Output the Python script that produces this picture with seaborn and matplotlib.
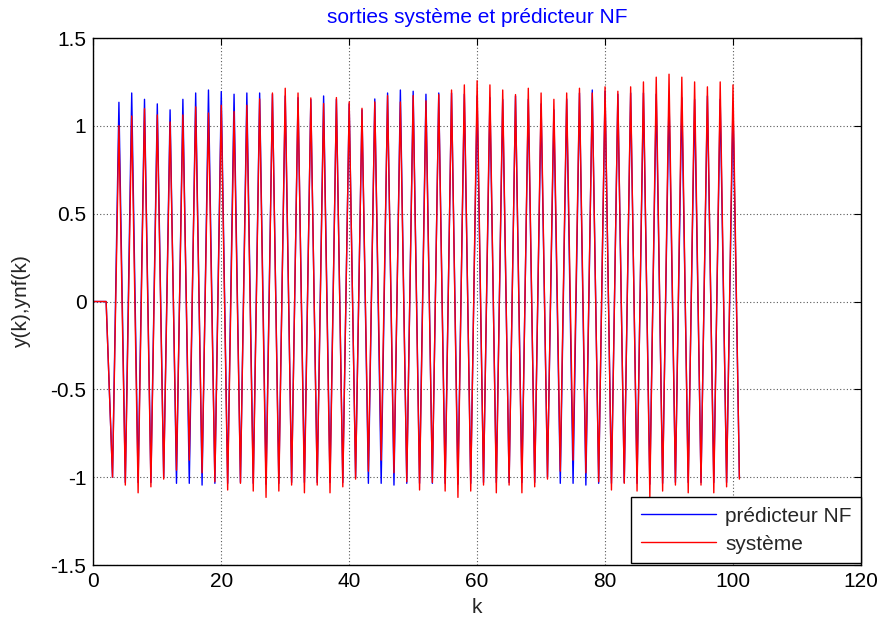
import matplotlib
matplotlib.use("Agg")
import matplotlib.pyplot as plt
import seaborn as sns
import pandas as pd

# sample index
k = list(range(0, 102))

# system output y(k)
y_sys = [
    0.0, 0.0, 0.0, -1.000, 1.001, -1.045, 1.056, -1.089, 1.098, -1.055,
    1.062, -1.011, 1.022, -0.960, 1.062, -0.903, 1.108, -0.975, 1.073, -1.026,
    1.117, -1.073, 1.081, -1.035, 1.117, -1.079, 1.153, -1.115, 1.187, -1.079,
    1.214, -1.045, 1.187, -1.089, 1.159, -1.045, 1.127, -1.089, 1.161, -1.055,
    1.136, -1.011, 1.100, -0.966, 1.136, -0.903, 1.172, -0.975, 1.136, -1.026,
    1.172, -1.073, 1.142, -1.030, 1.178, -1.079, 1.204, -1.115, 1.233, -1.079,
    1.257, -1.045, 1.233, -1.089, 1.204, -1.045, 1.178, -1.089, 1.214, -1.055,
    1.187, -1.011, 1.151, -0.966, 1.187, -0.903, 1.214, -0.975, 1.187, -1.026,
    1.222, -1.073, 1.197, -1.035, 1.222, -1.079, 1.250, -1.115, 1.277, -1.079,
    1.294, -1.045, 1.277, -1.089, 1.250, -1.045, 1.222, -1.089, 1.250, -1.055,
    1.233, -1.011,
]

# neuro-fuzzy predictor output ynf(k)
y_nf = [
    0.0, 0.0, 0.0, -1.000, 1.134, -1.030, 1.187, -1.030, 1.151, -1.030,
    1.125, -1.000, 1.091, -1.035, 1.151, -1.035, 1.187, -1.045, 1.204, -1.035,
    1.195, -1.035, 1.180, -1.030, 1.187, -1.035, 1.187, -1.040, 1.180, -1.035,
    1.170, -1.030, 1.160, -1.030, 1.150, -1.030, 1.170, -1.030, 1.151, -1.030,
    1.125, -1.000, 1.091, -1.035, 1.153, -1.035, 1.187, -1.045, 1.204, -1.035,
    1.197, -1.035, 1.180, -1.035, 1.187, -1.035, 1.187, -1.040, 1.180, -1.035,
    1.170, -1.030, 1.160, -1.030, 1.150, -1.030, 1.170, -1.030, 1.151, -1.030,
    1.125, -1.000, 1.091, -1.035, 1.153, -1.035, 1.187, -1.045, 1.204, -1.035,
    1.197, -1.035, 1.180, -1.030, 1.187, -1.035, 1.187, -1.040, 1.180, -1.035,
    1.170, -1.030, 1.160, -1.030, 1.150, -1.030, 1.170, -1.030, 1.151, -1.030,
    1.125, -1.000,
]

series_names = ["prédicteur NF", "système"]
series_colors = ["#0000ff", "#ff0000"]

x_ticks = [0, 20, 40, 60, 80, 100, 120]
y_ticks = [-1.5, -1, -0.5, 0, 0.5, 1, 1.5]
y_tick_labels = ["-1.5", "-1", "-0.5", "0", "0.5", "1", "1.5"]

df = pd.concat([
    pd.DataFrame({"k": k, "y": y_nf, "serie": series_names[0]}),
    pd.DataFrame({"k": k, "y": y_sys, "serie": series_names[1]}),
], ignore_index=True)

sns.set_style("white")
plt.rcParams["font.family"] = ["Liberation Sans", "DejaVu Sans"]
FS = 15

fig = plt.figure(figsize=(8.83, 6.2), dpi=100)
ax = fig.add_axes([0.1057, 0.0887, 0.975 - 0.1057, 0.9387 - 0.0887])

sns.lineplot(data=df, x="k", y="y", hue="serie", hue_order=series_names,
             palette=series_colors, sort=False, estimator=None,
             linewidth=1.0, ax=ax)

ax.set_xlim(0, 120)
ax.set_ylim(-1.5, 1.5)
ax.set_xticks(x_ticks)
ax.set_xticklabels([str(t) for t in x_ticks])
ax.set_yticks(y_ticks)
ax.set_yticklabels(y_tick_labels)
ax.tick_params(direction="in", length=5, width=0.8, labelsize=FS,
               top=True, right=True, colors="black", pad=5)

ax.grid(True, color="0.35", linestyle=(0, (1, 2)), linewidth=0.8)
for s in ax.spines.values():
    s.set_visible(True)
    s.set_color("black")
    s.set_linewidth(1.0)

ax.set_title("sorties système et prédicteur NF", color="#0000ff",
             fontsize=FS, pad=11)
ax.set_xlabel("k", fontsize=FS, labelpad=5)
ax.set_ylabel("y(k),ynf(k)", fontsize=FS, labelpad=14)

leg = ax.legend(loc="lower right", bbox_to_anchor=(1.0, 0.004),
                borderaxespad=0, fontsize=FS, frameon=True, fancybox=False,
                handlelength=3.6, handletextpad=0.45, borderpad=0.45,
                labelspacing=0.42)
leg.get_frame().set_edgecolor("black")
leg.get_frame().set_linewidth(1.0)
leg.get_frame().set_alpha(1)

fig.savefig("out.png", dpi=100)
